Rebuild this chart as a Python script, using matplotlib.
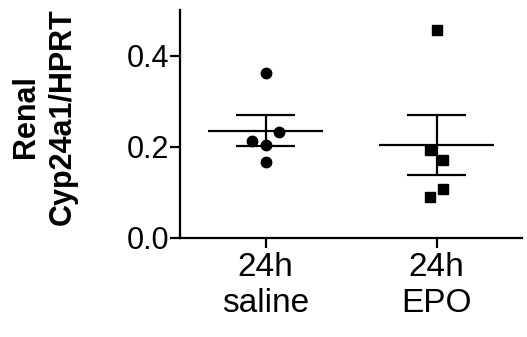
import numpy as np
import matplotlib
matplotlib.use("Agg")
import matplotlib.pyplot as plt

plt.rcParams["font.family"] = ["Liberation Sans", "DejaVu Sans"]

groups = ["24h\nsaline", "24h\nEPO"]
saline = [0.363, 0.212, 0.204, 0.232, 0.167]
epo = [0.456, 0.194, 0.171, 0.108, 0.091]
saline_dx = [0.0, -0.08, 0.0, 0.08, 0.0]
epo_dx = [0.0, -0.04, 0.04, 0.04, -0.04]
yticks = [0.0, 0.2, 0.4]

fig = plt.figure(figsize=(5.27, 3.37), dpi=100)
ax = fig.add_axes([0.3416, 0.2938, 0.6489, 0.6762])

for i, (vals, dx, mk, ms) in enumerate([(saline, saline_dx, "o", 7.5), (epo, epo_dx, "s", 7)]):
    vals = np.array(vals)
    ax.plot(i + np.array(dx), vals, linestyle="none", marker=mk, color="black",
            markersize=ms, zorder=3)
    m = vals.mean()
    sem = vals.std(ddof=1) / np.sqrt(len(vals))
    ax.hlines(m, i - 0.336, i + 0.336, color="black", lw=1.6)
    ax.hlines([m - sem, m + sem], i - 0.175, i + 0.175, color="black", lw=1.6)
    ax.vlines(i, m - sem, m + sem, color="black", lw=1.6)

ax.set_xlim(-0.5, 1.5)
ax.set_ylim(0, 0.5)
ax.set_xticks([0, 1])
ax.set_xticklabels(groups, fontsize=24, linespacing=1.2)
ax.set_yticks(yticks)
ax.set_yticklabels([f"{v:.1f}" for v in yticks], fontsize=22)
for s in ["top", "right"]:
    ax.spines[s].set_visible(False)
for s in ["left", "bottom"]:
    ax.spines[s].set_linewidth(1.6)
ax.tick_params(width=1.6, length=7, pad=1)
ax.tick_params(axis="x", pad=3)

fig.text(0.085, 1 - 117 / 337, "Renal\nCyp24a1/HPRT", rotation=90, ha="center", va="center",
         fontsize=22, fontweight="bold", multialignment="center", linespacing=1.3)

fig.savefig("out.png", dpi=100)
